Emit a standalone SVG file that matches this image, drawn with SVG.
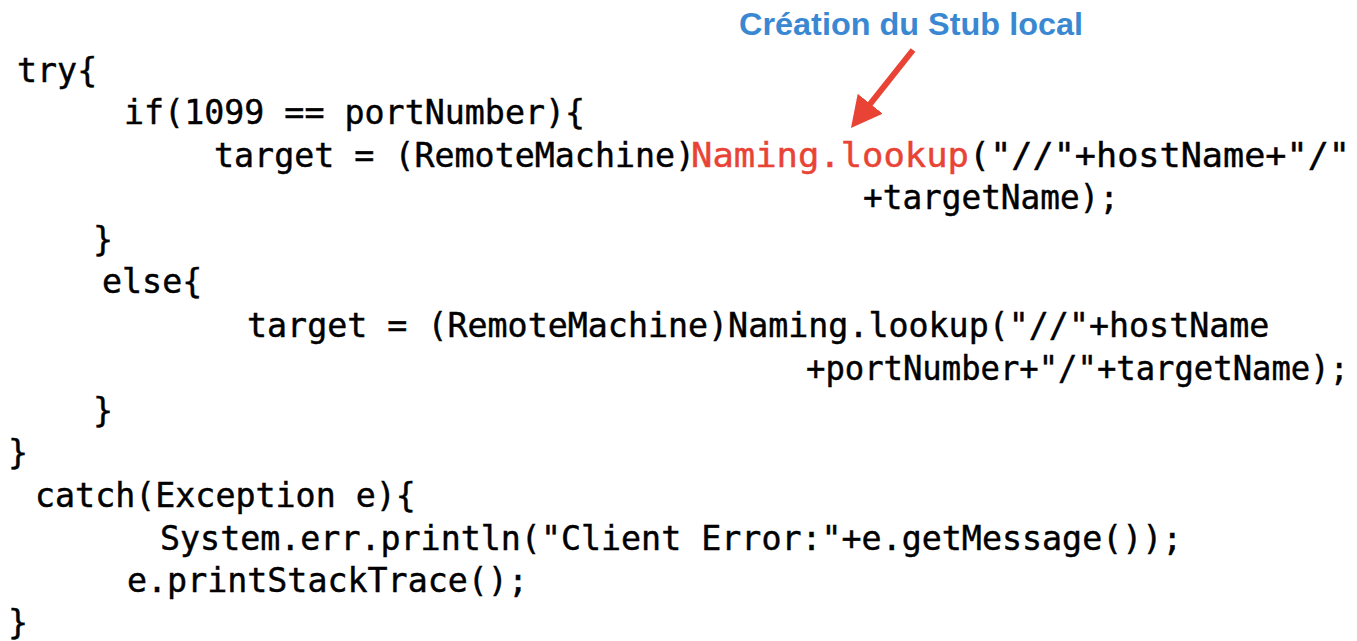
<svg xmlns="http://www.w3.org/2000/svg" width="1357" height="641" viewBox="0 0 1357 641">
  <style>
    .code { font-family: "DejaVu Sans Mono", "Liberation Mono", monospace; font-size: 33.3px; fill: #000; stroke: #000; stroke-width: 0.45px; }
    .hl { fill: #e84335; stroke: #e84335; }
    .label { font-family: "Liberation Sans", Arial, sans-serif; font-weight: bold; font-size: 32px; fill: #3a88d2; }
    .arrow { stroke: #e84335; stroke-width: 6; fill: none; }
  </style>
  <defs>
    <marker id="head" markerUnits="userSpaceOnUse" viewBox="0 0 31 32" markerWidth="31" markerHeight="32" refX="16" refY="16" orient="auto">
      <path d="M0,0 L31,16 L0,32 Z" fill="#e84335"/>
    </marker>
  </defs>
  <rect width="1357" height="641" fill="#fff"/>

  <!-- Java client lookup block -->
  <g id="code">
    <text class="code" x="17" y="82">try{</text>
    <text class="code" x="124" y="124">if(1099 == portNumber){</text>
    <text class="code" x="214" y="167">target = (RemoteMachine)</text>
    <text class="code hl" x="691" y="167" textLength="278" lengthAdjust="spacingAndGlyphs">Naming.lookup</text>
    <text class="code" x="969" y="167" textLength="381" lengthAdjust="spacingAndGlyphs">("//"+hostName+"/"</text>
    <text class="code" x="863" y="209" textLength="256" lengthAdjust="spacingAndGlyphs">+targetName);</text>
    <text class="code" x="93" y="251">}</text>
    <text class="code" x="102" y="293">else{</text>
    <text class="code" x="247" y="337">target = (RemoteMachine)Naming.lookup("//"+hostName</text>
    <text class="code" x="806" y="380" textLength="543" lengthAdjust="spacingAndGlyphs">+portNumber+"/"+targetName);</text>
    <text class="code" x="93" y="422">}</text>
    <text class="code" x="8" y="464">}</text>
    <text class="code" x="35" y="507">catch(Exception e){</text>
    <text class="code" x="160" y="550">System.err.println("Client Error:"+e.getMessage());</text>
    <text class="code" x="127" y="592">e.printStackTrace();</text>
    <text class="code" x="8" y="634">}</text>
  </g>

  <!-- Callout label -->
  <g id="callout-label">
    <text class="label" x="739" y="35" textLength="344" lengthAdjust="spacingAndGlyphs">Création du Stub local</text>
  </g>

  <!-- Connectors -->
  <g id="connectors">
    <line class="arrow" x1="913" y1="50" x2="860.3" y2="116.3" marker-end="url(#head)"/>
  </g>
</svg>
